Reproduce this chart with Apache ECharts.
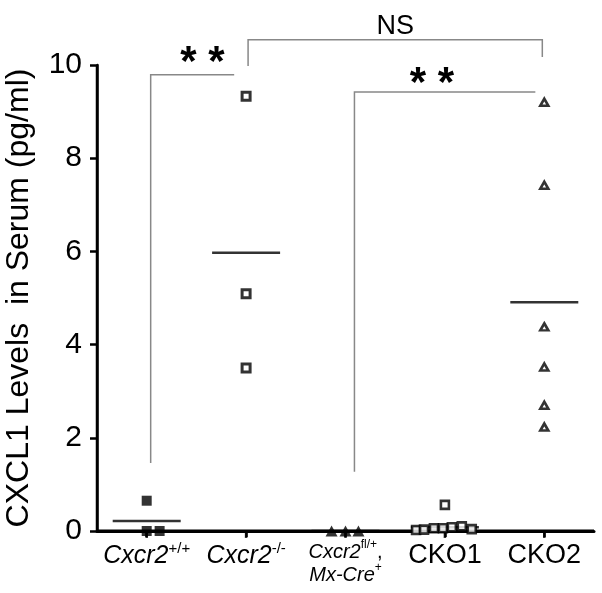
<!DOCTYPE html>
<html>
<head>
<meta charset="utf-8">
<script src="https://cdn.jsdelivr.net/npm/echarts@6/dist/echarts.min.js"></script>
<style>html,body{margin:0;padding:0;background:#fff}#c{width:602px;height:593px}</style>
</head>
<body>
<div id="c"></div>
<script>
// ---- data ----
var categories = ['Cxcr2+/+', 'Cxcr2-/-', 'Cxcr2fl/+, Mx-Cre+', 'CKO1', 'CKO2'];
var categoryPositions = [0, 1, 2, 3, 4];
var yTicks = [0, 2, 4, 6, 8, 10];
var wtValues = [0.65, 0, 0];
var wtJitter = [0, 0, 0.13];
var koValues = [9.33, 5.09, 3.50];
var koJitter = [0, 0, 0];
var flValues = [0, 0, 0];
var flJitter = [-0.14, 0, 0.13];
var cko1Values = [0.02, 0.03, 0.06, 0.06, 0.56, 0.08, 0.1, 0.04];
var cko1Jitter = [-0.29, -0.21, -0.11, -0.02, 0, 0.07, 0.17, 0.27];
var cko2Values = [9.2, 7.42, 4.38, 3.52, 2.70, 2.23];
var cko2Jitter = [0, 0, 0, 0, 0, 0];
var meanValues = [0.217, 5.97, 0, 0.08, 4.91];
var yTitle = 'CXCL1 Levels  in Serum (pg/ml)';

function pts(cat, vals, jit) {
  return vals.map(function (v, i) { return [cat + jit[i], v]; });
}

var FONT = '"Liberation Sans", Arial, sans-serif';
var chart = echarts.init(document.getElementById('c'), null, {renderer: 'canvas'});

var labelRich = {
  i: {fontFamily: FONT, fontStyle: 'italic', fontSize: 25, color: '#000', lineHeight: 30, verticalAlign: 'bottom'},
  s: {fontFamily: FONT, fontSize: 15, color: '#000', lineHeight: 30, verticalAlign: 'top', padding: [2, 0, 0, 0]},
  i2: {fontFamily: FONT, fontStyle: 'italic', fontSize: 20, color: '#000', lineHeight: 23, verticalAlign: 'bottom'},
  s2: {fontFamily: FONT, fontSize: 12, color: '#000', lineHeight: 23, verticalAlign: 'top'},
  n2: {fontFamily: FONT, fontSize: 20, color: '#000', lineHeight: 23, verticalAlign: 'bottom'},
  n: {fontFamily: FONT, fontSize: 27, color: '#000', lineHeight: 33}
};
var labelText = [
  '{i|Cxcr2}{s|+/+}',
  '{i|Cxcr2}{s|-/-}',
  '{i2|Cxcr2}{s2|fl/+}{n2|,}\n{i2|Mx-Cre}{s2|+}',
  '{n|CKO1}',
  '{n|CKO2}'
];

var X_MIN = -0.5, X_MAX = 4.5, Y_MIN = 0, Y_MAX = 10;

var option = {
  animation: false,
  backgroundColor: '#fff',
  grid: {left: 97, right: 8, top: 65, bottom: 62, containLabel: false, outerBoundsMode: 'none'},
  xAxis: [{
    type: 'value',
    min: X_MIN, max: X_MAX,
    axisLine: {show: true, onZero: false, lineStyle: {color: '#000', width: 3}},
    axisTick: {show: true, customValues: categoryPositions, length: 6, lineStyle: {color: '#000', width: 2.5}},
    axisLabel: {
      show: true,
      customValues: categoryPositions,
      margin: 8,
      formatter: function (v) { return labelText[Math.round(v)]; },
      rich: labelRich
    },
    splitLine: {show: false}
  }],
  yAxis: [{
    type: 'value',
    min: Y_MIN, max: Y_MAX, interval: 2,
    name: yTitle,
    nameLocation: 'middle',
    nameGap: 62,
    nameTextStyle: {fontFamily: FONT, fontSize: 32, color: '#000'},
    axisLine: {show: true, onZero: false, lineStyle: {color: '#000', width: 2.5}},
    axisTick: {show: true, length: 7, lineStyle: {color: '#000', width: 2.5}},
    axisLabel: {fontFamily: FONT, fontSize: 30, color: '#000', margin: 15},
    splitLine: {show: false}
  }],
  series: [
    // axis baselines as line series (in case the axis line itself is not painted)
    {type: 'line', data: [[X_MIN, Y_MIN], [X_MAX, Y_MIN]], symbol: 'none', clip: false, silent: true,
      lineStyle: {color: '#000', width: 3}, z: 1},
    {type: 'line', data: [[X_MIN, Y_MIN], [X_MIN, Y_MAX]], symbol: 'none', clip: false, silent: true,
      lineStyle: {color: '#000', width: 2.5}, z: 1},
    {type: 'scatter', data: pts(0, wtValues, wtJitter), symbol: 'rect', symbolSize: 10,
      itemStyle: {color: '#000'}, z: 3},
    {type: 'scatter', data: pts(1, koValues, koJitter), symbol: 'rect', symbolSize: 8,
      itemStyle: {color: '#fff', borderColor: '#000', borderWidth: 3}, z: 3},
    {type: 'scatter', data: pts(2, flValues, flJitter), symbol: 'triangle', symbolSize: [12, 11],
      itemStyle: {color: '#000'}, z: 3},
    {type: 'scatter', data: pts(3, cko1Values, cko1Jitter), symbol: 'rect', symbolSize: 8,
      itemStyle: {color: '#fff', borderColor: '#000', borderWidth: 2.6}, z: 3},
    {type: 'scatter', data: pts(4, cko2Values, cko2Jitter), symbol: 'triangle', symbolSize: [8, 7],
      itemStyle: {color: '#fff', borderColor: '#000', borderWidth: 2.6}, z: 3},
    {type: 'scatter', data: meanValues.map(function (v, i) { return [categoryPositions[i], v]; }),
      symbol: 'rect', symbolSize: [68, 2.5], itemStyle: {color: '#000'}, z: 2},
    // category tick marks below the baseline
    {type: 'scatter', data: categoryPositions.map(function (cp) { return [cp, Y_MIN]; }),
      symbol: 'rect', symbolSize: [2.5, 7], symbolOffset: [0, 3.5], itemStyle: {color: '#000'}, z: 1, silent: true}
  ]
};
chart.setOption(option);

function P(x, y) { return chart.convertToPixel({xAxisIndex: 0, yAxisIndex: 0}, [x, y]); }
function seg(points) {
  return {type: 'polyline', shape: {points: points}, style: {stroke: '#888', lineWidth: 1.5, fill: null}, z: 100};
}
var a = P(0.04, 1.46), b = P(0.04, 9.79), c = P(0.88, 9.79);
var d = P(1.02, 9.98), e = P(1.02, 10.54), f = P(3.98, 10.54), g = P(3.98, 10.17);
var h = P(2.09, 1.27), k = P(2.09, 9.42), m = P(3.91, 9.42);

chart.setOption({
  graphic: [
    seg([a, b, c]),
    seg([d, e, f, g]),
    seg([h, k, m]),
    {type: 'text', x: (b[0] + c[0]) / 2 + 10, y: b[1] + 10, z: 100,
      style: {text: '* *', font: 'bold 42px ' + FONT, fill: '#000', align: 'center', verticalAlign: 'bottom'}},
    {type: 'text', x: (e[0] + f[0]) / 2, y: e[1], z: 100,
      style: {text: 'NS', font: '27px ' + FONT, fill: '#000', align: 'center', verticalAlign: 'bottom'}},
    {type: 'text', x: (k[0] + m[0]) / 2 - 13, y: k[1] + 13, z: 100,
      style: {text: '* *', font: 'bold 42px ' + FONT, fill: '#000', align: 'center', verticalAlign: 'bottom'}}
  ]
});
</script>
</body>
</html>
